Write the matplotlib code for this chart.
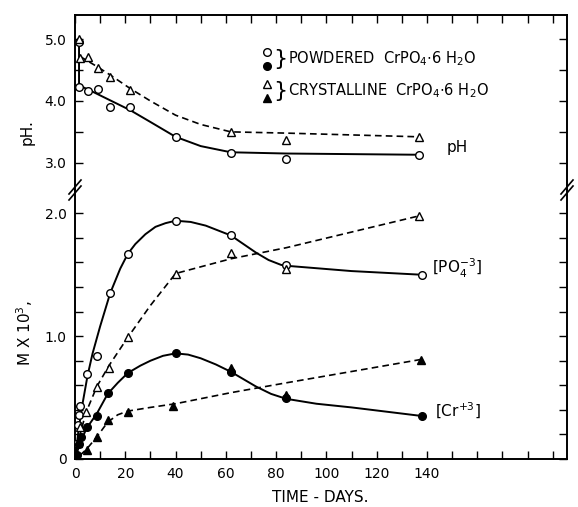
import numpy as np
from matplotlib import pyplot as plt
from matplotlib.ticker import MultipleLocator

plt.rcParams["font.family"] = "DejaVu Sans"
plt.rcParams["font.size"] = 10
plt.rcParams["mathtext.default"] = "regular"

# ---- pH panel ----
ph_pow_days = [1.6, 1.6, 5.3, 9, 14, 22, 40, 62, 84, 137]
ph_pow = [4.95, 4.23, 4.16, 4.19, 3.90, 3.90, 3.42, 3.16, 3.06, 3.13]
ph_pow_curve_days = [1.6, 1.6, 5, 10, 15, 22, 30, 40, 50, 62, 84, 137]
ph_pow_curve = [4.95, 4.25, 4.19, 4.09, 3.99, 3.85, 3.66, 3.42, 3.27, 3.17, 3.15, 3.13]

ph_cry_days = [1.6, 2, 5.3, 9, 14, 22, 62, 84, 137]
ph_cry = [5.00, 4.69, 4.71, 4.53, 4.39, 4.18, 3.50, 3.37, 3.42]
ph_cry_curve_days = [2, 9, 14, 22, 30, 40, 50, 62, 84, 137]
ph_cry_curve = [4.72, 4.55, 4.42, 4.20, 4.00, 3.77, 3.62, 3.50, 3.48, 3.42]

# ---- M x 10^3 panel ----
po4_pow_days = [0.5, 1, 1.5, 2, 4.6, 8.7, 14, 21, 40, 62, 84, 138]
po4_pow = [0.12, 0.28, 0.36, 0.43, 0.69, 0.84, 1.35, 1.67, 1.94, 1.82, 1.58, 1.50]
po4_pow_curve_days = [0, 1.5, 3, 5, 7, 10, 14, 18, 21, 24, 28, 32, 36, 40, 46, 52,
                      62, 67, 72, 77, 82, 86, 110, 138]
po4_pow_curve = [0.0, 0.25, 0.45, 0.68, 0.86, 1.08, 1.35, 1.55, 1.67, 1.75, 1.83, 1.89,
                 1.92, 1.94, 1.93, 1.90, 1.82, 1.75, 1.68, 1.62, 1.58, 1.57, 1.53, 1.50]

po4_cry_days = [1, 2, 4.4, 8.7, 13.5, 21, 40, 62, 84, 137]
po4_cry = [0.13, 0.26, 0.38, 0.59, 0.74, 0.99, 1.51, 1.68, 1.55, 1.98]
po4_cry_curve_days = [0, 2, 4.4, 8.7, 13.5, 21, 30, 40, 62, 84, 137]
po4_cry_curve = [0.0, 0.20, 0.38, 0.59, 0.76, 0.99, 1.25, 1.51, 1.63, 1.72, 1.98]

cr_pow_days = [0.8, 1.5, 2.5, 4.6, 8.7, 13, 21, 40, 62, 84, 138]
cr_pow = [0.03, 0.12, 0.18, 0.26, 0.35, 0.54, 0.70, 0.86, 0.71, 0.50, 0.35]
cr_pow_curve_days = [0, 2, 4.6, 8.7, 13, 17, 21, 26, 30, 35, 40, 45, 50, 56, 62, 67,
                     72, 78, 84, 96, 110, 138]
cr_pow_curve = [0.0, 0.13, 0.25, 0.37, 0.53, 0.62, 0.70, 0.76, 0.80, 0.84, 0.86, 0.85,
                0.82, 0.77, 0.71, 0.65, 0.59, 0.53, 0.49, 0.45, 0.42, 0.35]

cr_cry_days = [4.8, 8.7, 13, 21, 39, 62, 84, 137.5]
cr_cry = [0.07, 0.18, 0.32, 0.38, 0.43, 0.74, 0.52, 0.81]
cr_cry_curve_days = [2, 4.6, 8.7, 13, 17, 21, 30, 40, 62, 84, 137.5]
cr_cry_curve = [0.03, 0.08, 0.18, 0.30, 0.36, 0.39, 0.42, 0.45, 0.54, 0.62, 0.81]

x_labels = ["0", "20", "40", "60", "80", "100", "120", "140"]

W, H = 578, 507


def fx(px):
    return px / W


def fy(py):
    return 1 - py / H


fig = plt.figure(figsize=(W / 100, H / 100), dpi=100)
ax_ph = fig.add_axes([fx(75), fy(190), fx(567) - fx(75), fy(15) - fy(190)])
ax_m = fig.add_axes([fx(75), fy(459), fx(567) - fx(75), fy(190) - fy(459)])

xmax = 492 / 2.514
dash = (0, (4, 2.5))
lw = 1.4
mk = dict(ms=5.5, mew=1.0, color="black", ls="none", zorder=3)

for ax in (ax_ph, ax_m):
    ax.set_xlim(0, xmax)
    ax.xaxis.set_major_locator(MultipleLocator(10))
    ax.tick_params(direction="in", length=6, width=1, which="both",
                   left=True, right=True, labelsize=10, pad=6)
    for s in ax.spines.values():
        s.set_linewidth(1.4)

ax_ph.set_ylim(2.56, 5.39)
ax_ph.yaxis.set_minor_locator(MultipleLocator(0.5))
ax_ph.spines["bottom"].set_visible(False)
ax_ph.tick_params(axis="x", bottom=False, top=True, labelbottom=False)
ax_ph.set_yticks([3.0, 4.0, 5.0])
ax_ph.set_yticklabels(["3.0", "4.0", "5.0"])

ax_m.set_ylim(0, 2.19)
ax_m.set_yticks([0, 1.0, 2.0])
ax_m.set_yticklabels(["0", "1.0", "2.0"])
ax_m.yaxis.set_minor_locator(MultipleLocator(0.2))
ax_m.spines["top"].set_visible(False)
ax_m.tick_params(axis="x", top=False)
ax_m.set_xticks(np.arange(0, 200, 10))
ax_m.set_xticklabels([x_labels[i // 2] if i % 2 == 0 and i <= 14 else ""
                      for i in range(20)])

# pH curves
ax_ph.plot(ph_pow_curve_days, ph_pow_curve, "-", color="black", lw=lw)
ax_ph.plot(ph_cry_curve_days, ph_cry_curve, color="black", lw=1.2, ls=dash)
ax_ph.plot(ph_pow_days, ph_pow, marker="o", mfc="white", **mk)
ax_ph.plot(ph_cry_days, ph_cry, marker="^", mfc="white", **mk)

# concentration curves
ax_m.plot(po4_pow_curve_days, po4_pow_curve, "-", color="black", lw=lw)
ax_m.plot(po4_cry_curve_days, po4_cry_curve, color="black", lw=1.2, ls=dash)
ax_m.plot(cr_pow_curve_days, cr_pow_curve, "-", color="black", lw=lw)
ax_m.plot(cr_cry_curve_days, cr_cry_curve, color="black", lw=1.2, ls=dash)
ax_m.plot(po4_pow_days, po4_pow, marker="o", mfc="white", **mk)
ax_m.plot(po4_cry_days, po4_cry, marker="^", mfc="white", **mk)
ax_m.plot(cr_pow_days, cr_pow, marker="o", mfc="black", **mk)
ax_m.plot(cr_cry_days, cr_cry, marker="^", mfc="black", **mk)

# series labels
ax_ph.text(148, 3.18, "pH", fontsize=11)
ax_m.text(142, 1.55, r"[PO$_4^{-3}$]", fontsize=11, va="center")
ax_m.text(143, 0.39, r"[Cr$^{+3}$]", fontsize=11, va="center")

# legend block
lx, ly = 267, [52, 66, 84, 98]
for py, m, fc in zip(ly, ["o", "o", "^", "^"], ["white", "black", "white", "black"]):
    fig.lines.append(plt.Line2D([fx(lx)], [fy(py)], marker=m, mfc=fc, mec="black",
                                ms=5.5, mew=1.0, transform=fig.transFigure))
fig.text(fx(273), fy(59), "}", fontsize=16, va="center", ha="left")
fig.text(fx(273), fy(91), "}", fontsize=16, va="center", ha="left")
fig.text(fx(288), fy(59), r"POWDERED  CrPO$_4$$\cdot$6 H$_2$O", fontsize=10.5, va="center")
fig.text(fx(288), fy(91), r"CRYSTALLINE  CrPO$_4$$\cdot$6 H$_2$O", fontsize=10.5, va="center")

# axis labels
fig.text(fx(27), fy(132), "pH.", rotation=90, fontsize=11, va="center", ha="center")
fig.text(fx(25), fy(333), r"M X 10$^3$,", rotation=90, fontsize=11, va="center", ha="center")
fig.text(fx(320), fy(497), "TIME - DAYS.", fontsize=11, va="center", ha="center")

# axis break marks
for bx in (75, 567):
    for off in (-3, 3):
        fig.lines.append(plt.Line2D([fx(bx - 6), fx(bx + 6)],
                                    [fy(190 + off + 7), fy(190 + off - 7)],
                                    color="black", lw=1.2, transform=fig.transFigure))

fig.savefig("out.png", dpi=100)
